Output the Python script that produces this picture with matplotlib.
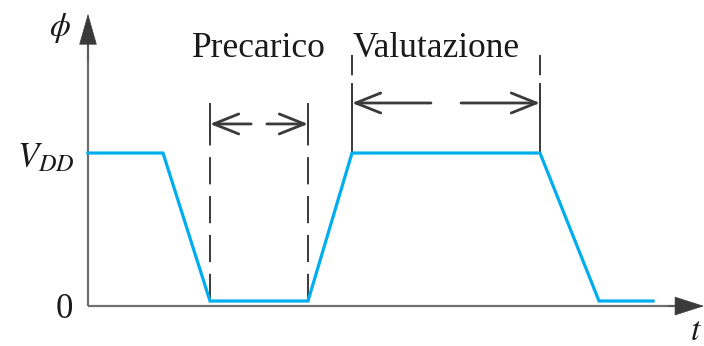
import matplotlib
matplotlib.use("Agg")
import matplotlib.pyplot as plt

plt.rcParams.update({"mathtext.fontset": "stix", "font.family": "Liberation Serif"})

BLUE = "#00aeef"
AXIS = "#6e6e6e"
DARK = "#3a3a3a"

# clock waveform phi(t): time in arbitrary units, level as a fraction of VDD
t_wave = [0.0, 7.5, 12.2, 22.0, 26.4, 45.2, 51.1, 56.5]
v_wave = [1.0, 1.0, 0.033, 0.033, 1.0, 1.0, 0.033, 0.033]

# phase markers (start, end) taken from the waveform corners
phases = ["Precarico", "Valutazione"]
phase_span = [(t_wave[2], t_wave[3]), (t_wave[4], t_wave[5])]
phase_arrow_v = [1.19, 1.327]
phase_tick = [(1.12, 1.327), (1.17, 1.458)]
phase_line = [(0.033, 1.33), (1.0, 1.64)]
label_v = 1.627

fig = plt.figure(figsize=(7.04, 3.46), dpi=100)
ax = fig.add_axes([0, 0, 1, 1])
ax.set_xlim(-8.8, 61.6)
ax.set_ylim(-0.261, 2.0)
ax.axis("off")

# axes with arrow heads
ax.plot([0, 0], [0, 1.75], color=AXIS, lw=1.6, solid_capstyle="butt")
ax.plot([0, 59.0], [0, 0], color=AXIS, lw=1.6, solid_capstyle="butt")
ax.annotate("", xy=(0, 1.91), xytext=(0, 1.6),
            arrowprops=dict(arrowstyle="-|>,head_length=1.05,head_width=0.3",
                            mutation_scale=20, color=DARK, lw=0.5,
                            shrinkA=0, shrinkB=0))
ax.annotate("", xy=(61.6, 0), xytext=(58.0, 0),
            arrowprops=dict(arrowstyle="-|>,head_length=1.0,head_width=0.32",
                            mutation_scale=20, color=DARK, lw=0.5,
                            shrinkA=0, shrinkB=0))

# dashed markers and double arrows
for name, (t0, t1), va_, (k0, k1), (l0, l1) in zip(
        phases, phase_span, phase_arrow_v, phase_tick, phase_line):
    for tx in (t0, t1):
        ax.plot([tx, tx], [l0, l1], color=DARK, lw=1.4,
                dashes=(14, 6), solid_capstyle="butt")
        ax.plot([tx, tx], [k0, k1], color=DARK, lw=1.4, solid_capstyle="butt")
    mid = (t0 + t1) / 2
    gap = 0.08 * (t1 - t0)
    for tail, head in ((mid - gap, t0), (mid + gap, t1)):
        ax.annotate("", xy=(head, va_), xytext=(tail, va_),
                    arrowprops=dict(arrowstyle="->,head_length=1.0,head_width=0.4",
                                    mutation_scale=18, color=DARK, lw=2.0,
                                    shrinkA=0, shrinkB=0))

ax.text(10.4, label_v, phases[0], fontsize=25.5, ha="left", va="baseline", color="#1a1a1a")
ax.text(26.5, label_v, phases[1], fontsize=25.5, ha="left", va="baseline", color="#1a1a1a")

# waveform
ax.plot(t_wave, v_wave, color=BLUE, lw=2.3, solid_joinstyle="miter")

# labels
ax.text(-2.8, 1.82, r"$\phi$", fontsize=24, ha="center", va="center", color="#1a1a1a")
ax.text(-1.3, 0.908, r"$V_{DD}$", fontsize=25, ha="right", va="baseline", color="#1a1a1a")
ax.text(-1.5, -0.078, "0", fontsize=25, ha="right", va="baseline", color="#1a1a1a")
ax.text(60.2, -0.225, r"$t$", fontsize=24, ha="left", va="baseline", color="#1a1a1a")

fig.savefig("out.png", dpi=100)
